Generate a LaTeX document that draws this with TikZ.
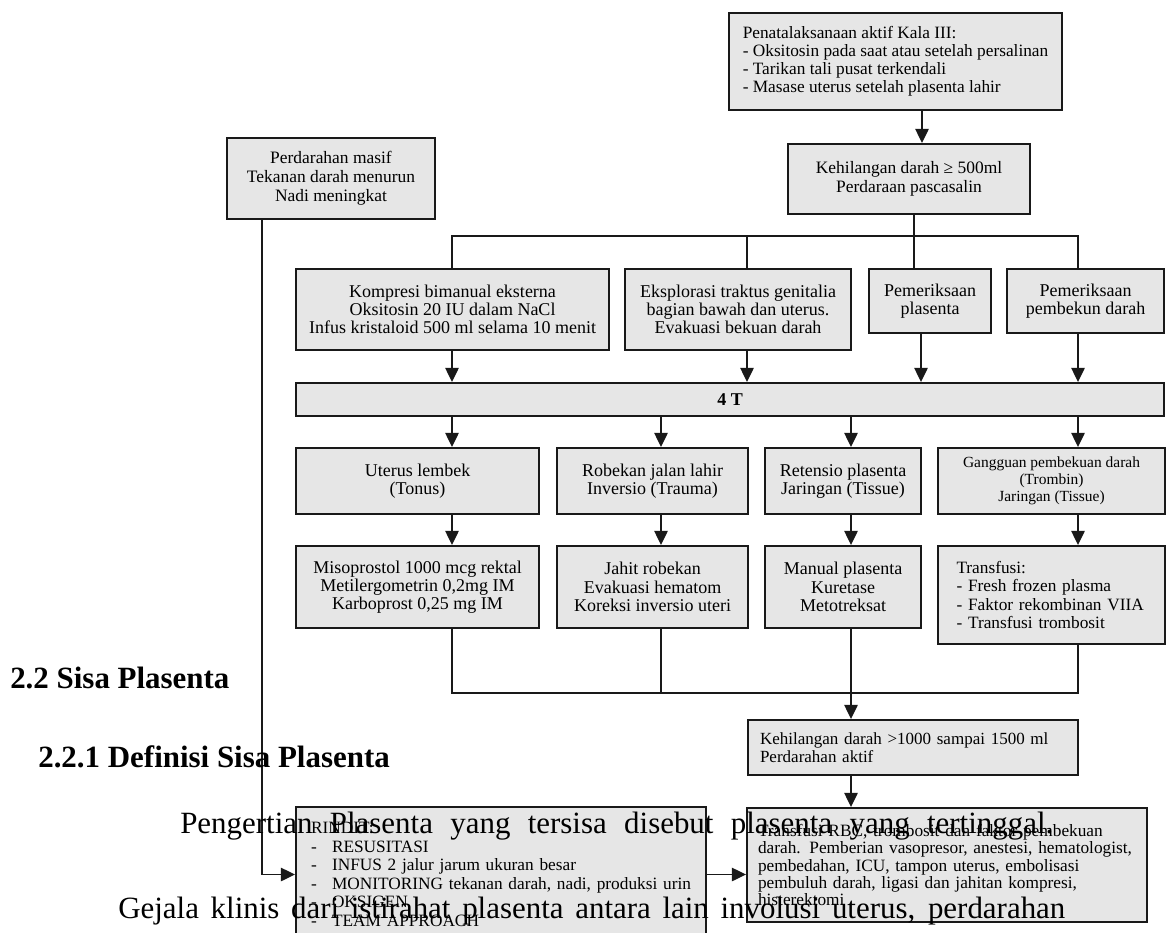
\documentclass[tikz,border=0pt]{standalone}
\usepackage{fontspec}
\setmainfont{Liberation Serif}
\usepackage{tikz}
\usetikzlibrary{arrows.meta}
\newlength{\pxu}
\setlength{\pxu}{0.025cm}
\definecolor{kotakabu}{RGB}{230,230,230}
\definecolor{garis}{RGB}{25,25,25}

\begin{document}
\begin{tikzpicture}[x=1\pxu,y=-1\pxu,
kotak/.style n args={2}{draw=garis,fill=kotakabu,line width=1.4pt,rectangle,minimum width=#1\pxu,minimum height=#2\pxu,inner sep=0pt,align=center,font=\fontsize{12.8}{13}\selectfont},
kiri/.style={align=left,text width=#1\pxu},
panah/.style={draw=garis,line width=1pt,-{Triangle[length=10pt,width=9.5pt]}},
sambung/.style={draw=garis,line width=1pt},
teks/.style={anchor=base west,inner sep=0pt}]
\useasboundingbox (0,0) rectangle (1168,932);
\clip (0,0) rectangle (1168,932);
\node[kotak={333}{97},align=left,font=\fontsize{12.3}{12.8}\selectfont] (atas) at (895.5,61.5)
   {Penatalaksanaan aktif Kala III:\\- Oksitosin pada saat atau setelah persalinan\\- Tarikan tali pusat terkendali\\- Masase uterus setelah plasenta lahir};
\node[kotak={242}{70},font=\fontsize{12.4}{13.2}\selectfont] (hilang500) at (909,179)
   {Kehilangan darah ≥ 500ml\\Perdaraan pascasalin};
\node[kotak={208}{81},font=\fontsize{12.4}{13.6}\selectfont] (masif) at (331,178.5)
   {Perdarahan masif\\Tekanan darah menurun\\Nadi meningkat};
\node[kotak={313}{81}] (kompresi) at (452.5,309.5)
   {Kompresi bimanual eksterna\\Oksitosin 20 IU dalam NaCl\\Infus kristaloid 500 ml selama 10 menit};
\node[kotak={226}{81}] (eksplorasi) at (738,309.5)
   {Eksplorasi traktus genitalia\\bagian bawah dan uterus.\\Evakuasi bekuan darah};
\node[kotak={122}{64}] (plasenta) at (930,301) {Pemeriksaan\\plasenta};
\node[kotak={157}{64}] (pembekuan) at (1085.5,301) {Pemeriksaan\\pembekun darah};
\node[kotak={868}{33},font=\fontsize{12.8}{13}\selectfont\bfseries] (empatT) at (730,399.5) {4 T};
\node[kotak={243}{66}] (tonus) at (417.5,481) {Uterus lembek\\(Tonus)};
\node[kotak={191}{66}] (trauma) at (652.5,481) {Robekan jalan lahir\\Inversio (Trauma)};
\node[kotak={156}{66}] (tissue) at (843,481) {Retensio plasenta\\Jaringan (Tissue)};
\node[kotak={227}{66},font=\fontsize{11}{12}\selectfont] (trombin) at (1051.5,481)
   {Gangguan pembekuan darah\\(Trombin)\\Jaringan (Tissue)};
\node[kotak={243}{82}] (misoprostol) at (417.5,587)
   {Misoprostol 1000 mcg rektal\\Metilergometrin 0,2mg IM\\Karboprost 0,25 mg IM};
\node[kotak={191}{82}] (jahit) at (652.5,587)
   {Jahit robekan\\Evakuasi hematom\\Koreksi inversio uteri};
\node[kotak={156}{82}] (manual) at (843,587) {Manual plasenta\\Kuretase\\Metotreksat};
\node[kotak={227}{98},kiri=190,font=\fontsize{12.3}{13}\selectfont] (transfusi) at (1051.5,595)
   {Transfusi:\\- Fresh frozen plasma\\- Faktor rekombinan VIIA\\- Transfusi trombosit};
\node[kotak={330}{55},kiri=306,font=\fontsize{12.1}{12.8}\selectfont] (hilang1000) at (913,747.5)
   {Kehilangan darah >1000 sampai 1500 ml\\Perdarahan aktif};
\node[kotak={410}{135},kiri=380,font=\fontsize{12.3}{13.2}\selectfont] (rindit) at (501,874.5)
   {RINDIT:\\\makebox[21\pxu][l]{-}RESUSITASI\\\makebox[21\pxu][l]{-}INFUS 2 jalur jarum ukuran besar\\
    \makebox[21\pxu][l]{-}MONITORING tekanan darah, nadi, produksi urin\\\makebox[21\pxu][l]{-}OKSIGEN\\
    \makebox[21\pxu][l]{-}TEAM APPROACH};
\node[kotak={400}{114},kiri=378,font=\fontsize{12.3}{11}\selectfont] (akhir) at (947,865)
   {Transfusi RBC, trombosit dan faktor pembekuan\\darah. Pemberian vasopresor, anestesi, hematologist,\\
    pembedahan, ICU, tampon uterus, embolisasi\\pembuluh darah, ligasi dan jahitan kompresi,\\histerektomi};
\coordinate (cabang) at (0,236);
\coordinate (kumpul) at (0,693);
\foreach \k/\x in {k1/452,k2/661,k3/851,k4/1078,kr/262,ka/922,kb/914,ke/747,kc/921} {
   \coordinate (\k) at (\x,0);
}
\draw[panah] (atas.south -| ka) -- (hilang500.north -| ka);
\draw[sambung] (hilang500.south -| kb) -- (plasenta.north -| kb);
\draw[sambung] (kompresi.north -| k1) -- (cabang -| k1) -- (cabang -| k4) -- (pembekuan.north -| k4);
\draw[sambung] (eksplorasi.north -| ke) -- (cabang -| ke);
\foreach \n/\k in {kompresi/k1,eksplorasi/ke,plasenta/kc,pembekuan/k4} {
   \draw[panah] (\n.south -| \k) -- (empatT.north -| \k);
}
\foreach \a/\b/\k in %
{empatT/tonus/k1,empatT/trauma/k2,empatT/tissue/k3,empatT/trombin/k4,tonus/misoprostol/k1,trauma/jahit/k2,tissue/manual/k3,trombin/transfusi/k4} {
   \draw[panah] (\a.south -| \k) -- (\b.north -| \k);
}
\draw[sambung] (misoprostol.south -| k1) -- (kumpul -| k1) -- (kumpul -| k4) -- (transfusi.south -| k4);
\draw[sambung] (jahit.south -| k2) -- (kumpul -| k2);
\draw[panah] (manual.south -| k3) -- (hilang1000.north -| k3);
\draw[panah] (hilang1000.south -| k3) -- (akhir.north -| k3);
\draw[panah] (masif.south -| kr) |- (rindit.west);
\draw[panah] (rindit.east) -- (akhir.west |- rindit.east);
\node[teks,font=\fontsize{22}{26}\selectfont\bfseries] (judul) at (10,688) {2.2 Sisa Plasenta};
\node[teks,font=\fontsize{22}{26}\selectfont\bfseries] (subjudul) at (38,767) {2.2.1 Definisi Sisa Plasenta};
\node[teks,font=\fontsize{22}{26}\selectfont] (baris1) at (180,833)
   {\makebox[873\pxu][s]{Pengertian Plasenta yang tersisa disebut plasenta yang tertinggal.}};
\node[teks,font=\fontsize{22}{26}\selectfont] (baris2) at (118,918)
   {\makebox[947\pxu][s]{Gejala klinis dari istirahat plasenta antara lain involusi uterus, perdarahan}};
\end{tikzpicture}
\end{document}
